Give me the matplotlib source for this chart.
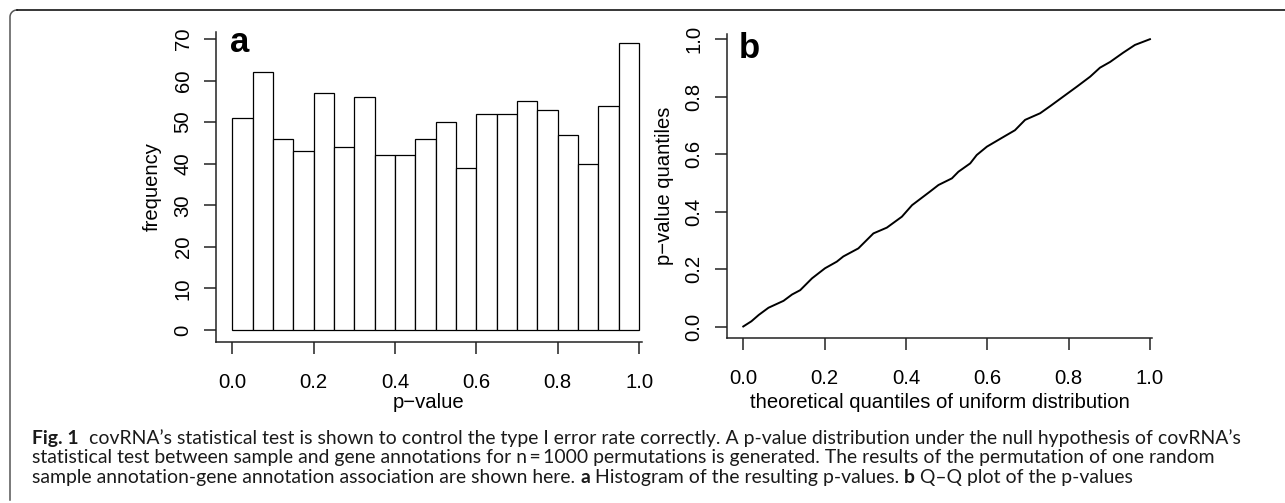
import matplotlib
matplotlib.use("Agg")
import matplotlib.pyplot as plt
import numpy as np

# histogram of permutation p-values (20 bins of width 0.05)
bin_edges = [0.0, 0.05, 0.1, 0.15, 0.2, 0.25, 0.3, 0.35, 0.4, 0.45, 0.5,
             0.55, 0.6, 0.65, 0.7, 0.75, 0.8, 0.85, 0.9, 0.95, 1.0]
counts = [51, 62, 46, 43, 57, 44, 56, 42, 42, 46,
          50, 39, 52, 52, 55, 53, 47, 40, 54, 69]
hist_yticks = [0, 10, 20, 30, 40, 50, 60, 70]

# Q-Q curve
qq_theo = [0.0, 0.02, 0.038, 0.062, 0.099, 0.12, 0.14, 0.169, 0.201, 0.23,
           0.246, 0.283, 0.32, 0.353, 0.39, 0.415, 0.459, 0.48, 0.513, 0.529,
           0.558, 0.574, 0.599, 0.64, 0.668, 0.693, 0.73, 0.755, 0.787, 0.82,
           0.853, 0.877, 0.902, 0.934, 0.963, 1.0]
qq_pval = [0.002, 0.02, 0.042, 0.067, 0.091, 0.113, 0.128, 0.169, 0.204, 0.227,
           0.245, 0.273, 0.325, 0.345, 0.383, 0.423, 0.47, 0.493, 0.516, 0.539,
           0.568, 0.597, 0.626, 0.66, 0.683, 0.719, 0.742, 0.767, 0.8, 0.834,
           0.869, 0.9, 0.92, 0.952, 0.979, 0.999]
qq_ticks = [0.0, 0.2, 0.4, 0.6, 0.8, 1.0]

W, H = 1285, 503
fig = plt.figure(figsize=(W/100, H/100), dpi=100)
fig.patch.set_facecolor('white')

axfont = 'Liberation Sans'
fs = 14.6

def px_axes(l, r, t, b):
    return fig.add_axes([l/W, 1-b/H, (r-l)/W, (b-t)/H])

def style(ax):
    for s in ['top', 'right']:
        ax.spines[s].set_visible(False)
    for s in ['left', 'bottom']:
        ax.spines[s].set_linewidth(1.1)
        ax.spines[s].set_color('#222222')
    ax.tick_params(direction='out', length=8.6, width=1.1, color='#222222',
                   labelsize=fs)
    ax.tick_params(axis='x', pad=14)
    ax.tick_params(axis='y', pad=8.3)
    for lab in ax.get_xticklabels() + ax.get_yticklabels():
        lab.set_family(axfont)
    for lab in ax.get_yticklabels():
        lab.set_rotation(90)
        lab.set_va('center')

# panel a
ax1 = px_axes(216, 642, 32, 342)
lefts = bin_edges[:-1]
widths = np.diff(bin_edges)
ax1.bar(lefts, counts, width=widths, align='edge', facecolor='white',
        edgecolor='black', linewidth=0.9)
ax1.set_xlim(-0.04, 1.007)
ax1.set_ylim(-2.9, 71.7)
ax1.set_xticks(qq_ticks)
ax1.set_xticklabels(['%.1f' % v for v in qq_ticks])
ax1.set_yticks(hist_yticks)
ax1.set_yticklabels([str(v) for v in hist_yticks])
style(ax1)
ax1.set_xlabel('p\u2212value', fontsize=fs, family=axfont)
ax1.xaxis.set_label_coords(0.5, -61/310)
ax1.xaxis.label.set_va('center')
ax1.set_ylabel('frequency', fontsize=fs, family=axfont)
ax1.yaxis.set_label_coords(-64/426, 0.5)
ax1.yaxis.label.set_va('center')

# panel b
ax2 = px_axes(727, 1152, 34, 338)
ax2.plot(qq_theo, qq_pval, color='black', linewidth=1.4)
ax2.set_xlim(-0.04, 1.005)
ax2.set_ylim(-0.038, 1.017)
ax2.set_xticks(qq_ticks)
ax2.set_xticklabels(['%.1f' % v for v in qq_ticks])
ax2.set_yticks(qq_ticks)
ax2.set_yticklabels(['%.1f' % v for v in qq_ticks])
style(ax2)
ax2.set_xlabel('theoretical quantiles of uniform distribution', fontsize=fs, family=axfont)
ax2.xaxis.set_label_coords(0.5, -65/304)
ax2.xaxis.label.set_va('center')
ax2.set_ylabel('p\u2212value quantiles', fontsize=fs, family=axfont)
ax2.yaxis.set_label_coords(-62/425, 0.5)
ax2.yaxis.label.set_va('center')

# panel letters
fig.text(230/W, 1-52/H, 'a', fontsize=25, fontweight='bold', family=axfont, va='baseline', ha='left')
fig.text(739/W, 1-58/H, 'b', fontsize=25, fontweight='bold', family=axfont, va='baseline', ha='left')

# frame round the figure
r = 7
ang = np.linspace(np.pi, np.pi/2, 12)
cx, cy = 10 + r, 10 + r
arc_x = list(cx + r*np.cos(ang))
arc_y = list(cy - r*np.sin(ang))
fx = [10] + arc_x + [W]
fy = [500] + arc_y + [10]
fig.add_artist(plt.Line2D([x/W for x in fx[:-1]], [1-y/H for y in fy[:-1]],
                          transform=fig.transFigure, color='#555555', linewidth=1.1))
fig.add_artist(plt.Line2D([fx[-2]/W, 1.0], [1-10/H, 1-10/H],
                          transform=fig.transFigure, color='black', linewidth=1.1))

# caption
cap_font = 'Lato'
lines = [
    [('Fig. 1', 'bold'), ('  covRNA\u2019s statistical test is shown to control the type I error rate correctly. A p-value distribution under the null hypothesis of covRNA\u2019s', 'normal')],
    [('statistical test between sample and gene annotations for n\u2009=\u20091000 permutations is generated. The results of the permutation of one random', 'normal')],
    [('sample annotation-gene annotation association are shown here. ', 'normal'), ('a', 'bold'),
     (' Histogram of the resulting p-values. ', 'normal'), ('b', 'bold'), (' Q\u2013Q plot of the p-values', 'normal')],
]
baselines = [444, 463, 483]

renderer = fig.canvas.get_renderer()
probe = fig.text(0, 0, lines[1][0][0], fontsize=12, family=[cap_font, 'DejaVu Sans'])
wprobe = probe.get_window_extent(renderer).width
probe.remove()
cap_fs = 12 * (1213 - 32) / wprobe

for parts, yb in zip(lines, baselines):
    x = 32
    for txt, wt in parts:
        t = fig.text(x/W, 1-yb/H, txt, fontsize=cap_fs, fontweight=wt,
                     family=[cap_font, 'DejaVu Sans'], va='baseline', ha='left', color='#1a1a1a')
        x = t.get_window_extent(renderer).x1

fig.savefig('out.png', dpi=100, facecolor='white')
